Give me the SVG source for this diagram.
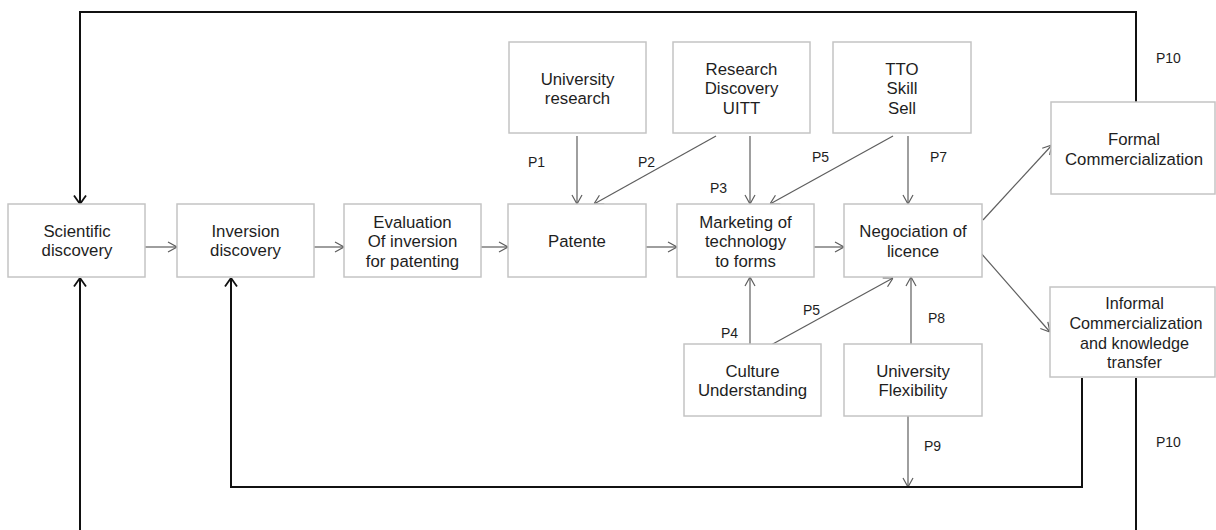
<svg xmlns="http://www.w3.org/2000/svg" width="1216" height="530" viewBox="0 0 1216 530">
  <style>
    .box { fill: #ffffff; stroke: #c4c4c4; stroke-width: 1.5; }
    .t { font-family: "Liberation Sans", Arial, sans-serif; font-size: 16.8px; fill: #1e1e1e; text-anchor: middle; }
    .t2 { font-size: 16.2px; }
    .lbl { font-family: "Liberation Sans", Arial, sans-serif; font-size: 14px; fill: #1e1e1e; }
    .thin { fill: none; stroke: #5e5e5e; stroke-width: 1.2; marker-end: url(#arrGray); }
    .loop { fill: none; stroke: #111111; stroke-width: 2; }
    .loopArr { fill: none; stroke: #111111; stroke-width: 2; marker-end: url(#arrBlack); }
  </style>
  <defs>
    <marker id="arrGray" viewBox="0 0 10 12" refX="10" refY="6" markerWidth="10" markerHeight="12" markerUnits="userSpaceOnUse" orient="auto">
      <path d="M1,1 L10,6 L1,11" fill="none" stroke="#5e5e5e" stroke-width="1.2"/>
    </marker>
    <marker id="arrBlack" viewBox="0 0 10 14" refX="9.5" refY="7" markerWidth="10" markerHeight="14" markerUnits="userSpaceOnUse" orient="auto">
      <path d="M1,1 L9.5,7 L1,13" fill="none" stroke="#111111" stroke-width="1.8"/>
    </marker>
  </defs>

  <rect width="1216" height="530" fill="#ffffff"/>

  <!-- connectors -->
  <g id="connectors">
    <!-- main flow -->
    <line class="thin" x1="145" y1="247" x2="177" y2="247"/>
    <line class="thin" x1="314" y1="247" x2="344" y2="247"/>
    <line class="thin" x1="481" y1="247" x2="508" y2="247"/>
    <line class="thin" x1="646" y1="247" x2="677" y2="247"/>
    <line class="thin" x1="814" y1="247" x2="844" y2="247"/>
    <!-- influences from above -->
    <line class="thin" x1="577" y1="136" x2="577" y2="204"/>
    <line class="thin" x1="716" y1="136" x2="594" y2="204"/>
    <line class="thin" x1="750" y1="136" x2="750" y2="204"/>
    <line class="thin" x1="893" y1="136" x2="770" y2="204"/>
    <line class="thin" x1="908" y1="136" x2="908" y2="204"/>
    <!-- influences from below -->
    <line class="thin" x1="750" y1="344" x2="750" y2="277"/>
    <line class="thin" x1="771" y1="345" x2="893" y2="278"/>
    <line class="thin" x1="911" y1="344" x2="911" y2="277"/>
    <line class="thin" x1="908" y1="416" x2="908" y2="487"/>
    <!-- outcomes -->
    <line class="thin" x1="983" y1="220" x2="1052" y2="145"/>
    <line class="thin" x1="980" y1="252" x2="1050" y2="332"/>
    <!-- feedback loops -->
    <polyline class="loopArr" points="1136,102 1136,12 80,12 80,204"/>
    <line class="loop" x1="1136" y1="378" x2="1136" y2="530"/>
    <line class="loopArr" x1="80" y1="530" x2="80" y2="278"/>
    <polyline class="loopArr" points="1082,378 1082,487 231,487 231,278"/>
  </g>

  <!-- nodes -->
  <g id="scientific-discovery">
    <rect class="box" x="8" y="204" width="137" height="73"/>
    <text class="t" x="77" y="237">Scientific</text>
    <text class="t" x="77" y="256">discovery</text>
  </g>
  <g id="inversion-discovery">
    <rect class="box" x="177" y="204" width="137" height="73"/>
    <text class="t" x="245.5" y="237">Inversion</text>
    <text class="t" x="245.5" y="256">discovery</text>
  </g>
  <g id="evaluation">
    <rect class="box" x="344" y="204" width="137" height="73"/>
    <text class="t" x="412.5" y="227.5">Evaluation</text>
    <text class="t" x="412.5" y="247">Of inversion</text>
    <text class="t" x="412.5" y="266.5">for patenting</text>
  </g>
  <g id="patente">
    <rect class="box" x="508" y="204" width="138" height="73"/>
    <text class="t" x="577" y="246.5">Patente</text>
  </g>
  <g id="marketing">
    <rect class="box" x="677" y="204" width="137" height="73"/>
    <text class="t" x="745.5" y="227.5">Marketing of</text>
    <text class="t" x="745.5" y="247">technology</text>
    <text class="t" x="745.5" y="266.5">to forms</text>
  </g>
  <g id="negociation">
    <rect class="box" x="844" y="204" width="138" height="73"/>
    <text class="t" x="913" y="237">Negociation of</text>
    <text class="t" x="913" y="256.5">licence</text>
  </g>
  <g id="university-research">
    <rect class="box" x="509" y="42" width="137" height="91"/>
    <text class="t" x="577.5" y="85">University</text>
    <text class="t" x="577.5" y="104">research</text>
  </g>
  <g id="research-discovery">
    <rect class="box" x="673" y="42" width="137" height="91"/>
    <text class="t" x="741.5" y="74.5">Research</text>
    <text class="t" x="741.5" y="94">Discovery</text>
    <text class="t" x="741.5" y="113.5">UITT</text>
  </g>
  <g id="tto">
    <rect class="box" x="833" y="42" width="138" height="91"/>
    <text class="t" x="902" y="74.5">TTO</text>
    <text class="t" x="902" y="94">Skill</text>
    <text class="t" x="902" y="113.5">Sell</text>
  </g>
  <g id="formal-commercialization">
    <rect class="box" x="1051" y="102" width="164" height="92"/>
    <text class="t" x="1134" y="145">Formal</text>
    <text class="t" x="1134" y="164.5">Commercialization</text>
  </g>
  <g id="informal-commercialization">
    <rect class="box" x="1050" y="287" width="165" height="90"/>
    <text class="t t2" x="1134.5" y="309">Informal</text>
    <text class="t t2" x="1136" y="329">Commercialization</text>
    <text class="t t2" x="1134.5" y="348.5">and knowledge</text>
    <text class="t t2" x="1134.5" y="368">transfer</text>
  </g>
  <g id="culture-understanding">
    <rect class="box" x="684" y="344" width="137" height="72"/>
    <text class="t" x="752.5" y="376.5">Culture</text>
    <text class="t" x="752.5" y="396">Understanding</text>
  </g>
  <g id="university-flexibility">
    <rect class="box" x="844" y="344" width="138" height="72"/>
    <text class="t" x="913" y="376.5">University</text>
    <text class="t" x="913" y="396">Flexibility</text>
  </g>

  <!-- proposition labels -->
  <g id="labels">
    <text class="lbl" x="528" y="167">P1</text>
    <text class="lbl" x="638" y="167">P2</text>
    <text class="lbl" x="710" y="193">P3</text>
    <text class="lbl" x="812" y="162">P5</text>
    <text class="lbl" x="930" y="162">P7</text>
    <text class="lbl" x="1156" y="63">P10</text>
    <text class="lbl" x="721" y="338">P4</text>
    <text class="lbl" x="803" y="315">P5</text>
    <text class="lbl" x="928" y="323">P8</text>
    <text class="lbl" x="924" y="451">P9</text>
    <text class="lbl" x="1156" y="447">P10</text>
  </g>
</svg>
